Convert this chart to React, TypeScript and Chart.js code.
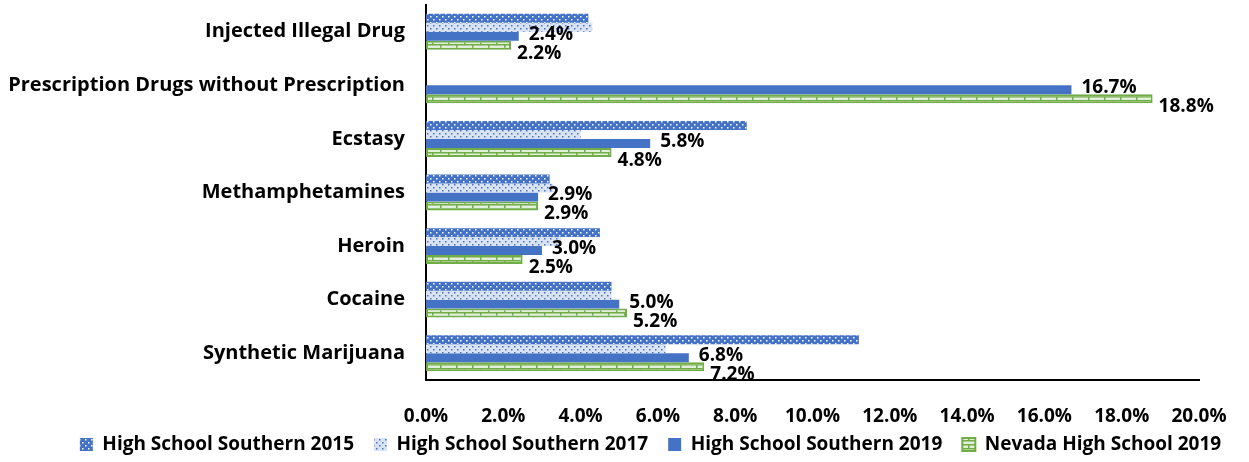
import React, { useEffect, useRef } from "react";
import { Chart, registerables } from "chart.js";

Chart.register(...registerables);

const categories = [
  "Injected Illegal Drug",
  "Prescription Drugs without Prescription",
  "Ecstasy",
  "Methamphetamines",
  "Heroin",
  "Cocaine",
  "Synthetic Marijuana",
];
const southern2015 = [4.2, 0, 8.3, 3.2, 4.5, 4.8, 11.2];
const southern2017 = [4.3, 0, 4.0, 3.3, 3.5, 4.8, 6.2];
const southern2019 = [2.4, 16.7, 5.8, 2.9, 3.0, 5.0, 6.8];
const nevada2019 = [2.2, 18.8, 4.8, 2.9, 2.5, 5.2, 7.2];
const seriesNames = [
  "High School Southern 2015",
  "High School Southern 2017",
  "High School Southern 2019",
  "Nevada High School 2019",
];
const xTicks = [0, 2, 4, 6, 8, 10, 12, 14, 16, 18, 20];

const BLUE = "#4472C4";
const GREEN = "#70AD47";
const FONT = "'Open Sans', sans-serif";

function makePattern(draw: (ctx: CanvasRenderingContext2D) => void, w: number, h: number) {
  const c = document.createElement("canvas");
  c.width = w;
  c.height = h;
  const ctx = c.getContext("2d")!;
  draw(ctx);
  return ctx.createPattern(c, "repeat")!;
}

export default function App() {
  const ref = useRef<HTMLCanvasElement | null>(null);
  useEffect(() => {
    document.body.style.margin = "0";
    const p2015 = makePattern((ctx) => {
      ctx.fillStyle = BLUE;
      ctx.fillRect(0, 0, 6, 6);
      ctx.fillStyle = "#ffffff";
      ctx.fillRect(1, 1, 1.5, 1.5);
      ctx.fillRect(4, 4, 1.5, 1.5);
    }, 6, 6);
    const p2017 = makePattern((ctx) => {
      ctx.fillStyle = "#DAE3F3";
      ctx.fillRect(0, 0, 6, 6);
      ctx.fillStyle = BLUE;
      ctx.fillRect(1, 1, 1.5, 1.5);
      ctx.fillRect(4, 4, 1.5, 1.5);
    }, 6, 6);
    const pNev = makePattern((ctx) => {
      ctx.fillStyle = "#E2EFDA";
      ctx.fillRect(0, 0, 16, 8);
      ctx.fillStyle = GREEN;
      ctx.fillRect(0, 0, 16, 1.5);
      ctx.fillRect(0, 4, 16, 1.5);
      ctx.fillRect(0, 0, 1.5, 4);
      ctx.fillRect(8, 4, 1.5, 4);
    }, 16, 8);

    const labelPlugin = {
      id: "valueLabels",
      afterDatasetsDraw(chart: any) {
        const ctx = chart.ctx;
        ctx.save();
        ctx.font = `bold 19px ${FONT}`;
        ctx.fillStyle = "#000";
        ctx.textAlign = "left";
        ctx.textBaseline = "middle";
        [2, 3].forEach((di) => {
          const meta = chart.getDatasetMeta(di);
          const data = chart.data.datasets[di].data as number[];
          meta.data.forEach((el: any, i: number) => {
            const v = data[i];
            if (!v) return;
            ctx.fillText(`${v.toFixed(1)}%`, el.x + (di === 2 ? 10 : 6), el.y + (di === 2 ? -2 : 8));
          });
        });
        ctx.restore();
      },
    };

    const legendHeightPlugin = {
      id: "legendHeight",
      beforeLayout(chart: any) {
        const lg = chart.legend;
        if (lg && !lg.__patched) {
          const f = lg.fit;
          lg.fit = function (this: any) {
            f.call(this);
            this.height = 47;
          };
          lg.__patched = true;
        }
      },
      afterLayout(chart: any) {
        const lg = chart.legend;
        if (lg) {
          lg.left = 52;
          lg.right = chart.width;
        }
      },
    };

    const chart = new Chart(ref.current!, {
      type: "bar",
      data: {
        labels: categories,
        datasets: [
          { label: seriesNames[0], data: southern2015, backgroundColor: p2015, borderWidth: 0 },
          { label: seriesNames[1], data: southern2017, backgroundColor: p2017, borderWidth: 0 },
          { label: seriesNames[2], data: southern2019, backgroundColor: BLUE, borderWidth: 0 },
          {
            label: seriesNames[3],
            data: nevada2019,
            backgroundColor: pNev,
            borderColor: GREEN,
            borderWidth: 2,
            borderSkipped: false,
          },
        ],
      },
      options: {
        indexAxis: "y",
        animation: false,
        responsive: false,
        maintainAspectRatio: false,
        layout: { padding: { top: 5, right: 50, left: 0, bottom: 0 } },
        datasets: { bar: { categoryPercentage: 0.67, barPercentage: 1 } },
        scales: {
          x: {
            min: 0,
            max: 20,
            afterBuildTicks: (scale: any) => {
              scale.ticks = xTicks.map((v) => ({ value: v }));
            },
            afterFit: (scale: any) => {
              scale.height = 35;
              scale._computeLabelArea = () => undefined;
            },
            grid: { display: false },
            border: { display: true, color: "#000", width: 2 },
            ticks: {
              padding: 17,
              color: "#000",
              font: { family: FONT, size: 19, weight: "bold" },
              callback: (v: any) => `${Number(v).toFixed(1)}%`,
            },
          },
          y: {
            grid: { display: false },
            border: { display: true, color: "#000", width: 2 },
            afterFit: (scale: any) => {
              scale.width = 426;
              scale.paddingTop = 0;
              scale.paddingBottom = 0;
            },
            ticks: {
              padding: 13,
              color: "#000",
              font: { family: FONT, size: 20, weight: "bold" },
            },
          },
        },
        plugins: {
          legend: {
            position: "bottom",
            labels: {
              color: "#000",
              boxWidth: 13,
              boxHeight: 13,
              padding: 20,
              font: { family: FONT, size: 19, weight: "bold" },
            },
          },
          tooltip: { enabled: false },
        },
      },
      plugins: [labelPlugin, legendHeightPlugin],
    } as any);
    return () => chart.destroy();
  }, []);
  return (
    <div style={{ width: 1249, height: 462, position: "relative" }}>
      <canvas ref={ref} width={1249} height={462} style={{ display: "block" }} />
    </div>
  );
}
